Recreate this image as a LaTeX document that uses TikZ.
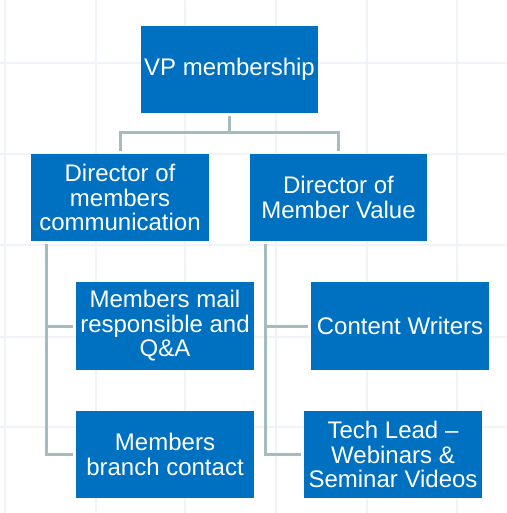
\documentclass[tikz,border=0pt]{standalone}
\usepackage{fontspec}
\setmainfont{Liberation Sans}
\definecolor{boxblue}{HTML}{0070C0}
\definecolor{conncol}{HTML}{A3BDBF}
\definecolor{gridcol}{HTML}{F0F4F8}
\begin{document}
\begin{tikzpicture}[x=1pt,y=-1pt,
  box/.style={draw=none,fill=boxblue,text=white,minimum width=178pt,minimum height=87pt,inner sep=0pt,align=center,font=\fontsize{24}{24.5}\selectfont},
  conn/.style={draw=conncol,line width=3pt},
  gridline/.style={draw=gridcol,line width=2.5pt}]
\useasboundingbox (0,0) rectangle (506,513);
\fill[white] (0,0) rectangle (506,513);
% faint background grid
\foreach \gx in {5,96,185,276,367,457} {\draw[gridline] (\gx,0) -- (\gx,513);}
\foreach \gy in {63,154,245,337,427} {\draw[gridline] (0,\gy) -- (506,\gy);}
% nodes
\node[box,minimum width=177pt] (vp) at (229.5,69.5) {VP membership};
\node[box] (d1) at (120,197.5) {Director of\\members\\communication};
\node[box,minimum width=177pt] (d2) at (338.5,197.5) {Director of\\Member Value};
\node[box,minimum height=88pt] (m1) at (165,326) {Members mail\\responsible and\\Q\&A};
\node[box] (m2) at (165,454.5) {Members\\branch contact};
\node[box,minimum height=88pt] (cw) at (400,326) {Content Writers};
\node[box] (tl) at (393,454.5) {Tech Lead –\\Webinars \&\\Seminar Videos};
% connectors
\coordinate (bus) at (229.5,133);
\draw[conn,shorten <=3pt] (vp.south) -- (bus);
\draw[conn,shorten >=3pt] (bus) -| (d1.north);
\draw[conn,shorten >=3pt] (bus) -| (d2.north);
\coordinate (l1) at ([xshift=16pt,yshift=-3pt]d1.south west);
\coordinate (l2) at ([xshift=16pt,yshift=-3pt]d2.south west);
\draw[conn,shorten >=3pt] (l1) |- (m1.west);
\draw[conn,shorten >=3pt] (l1) |- (m2.west);
\draw[conn,shorten >=3pt] (l2) |- (cw.west);
\draw[conn,shorten >=3pt] (l2) |- (tl.west);
\end{tikzpicture}
\end{document}
